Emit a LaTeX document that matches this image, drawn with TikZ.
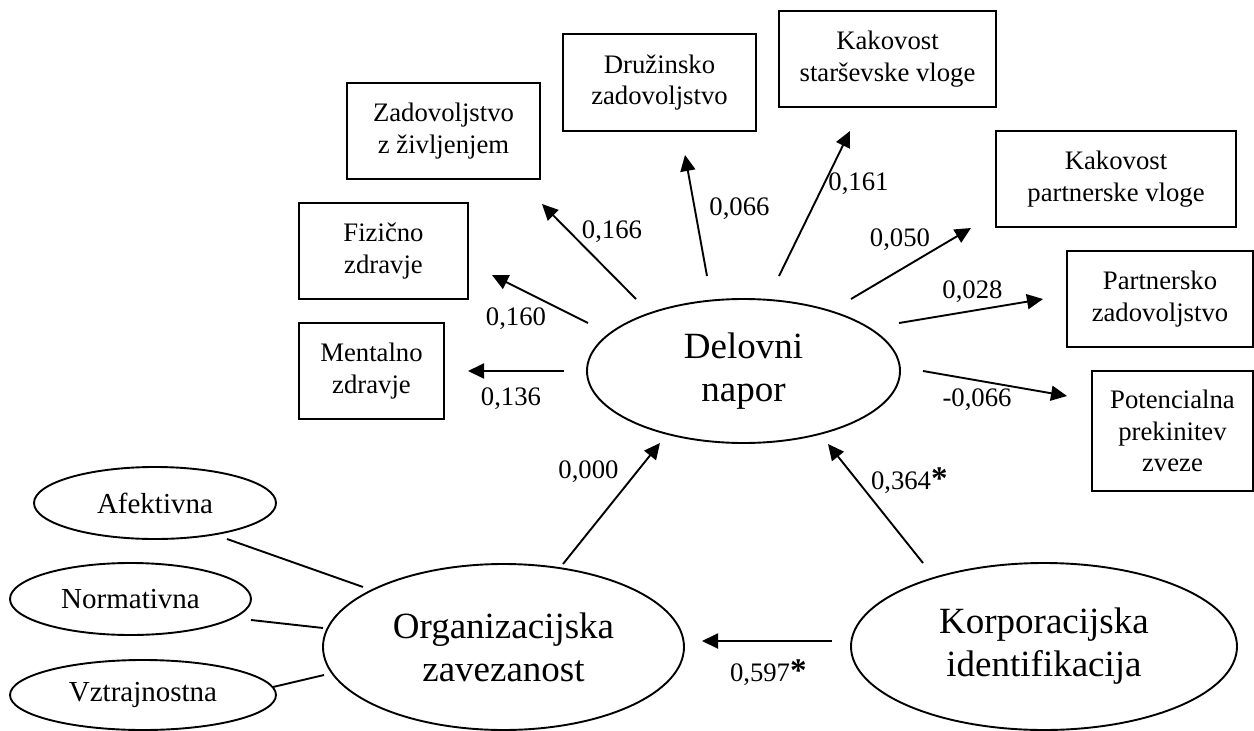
\documentclass[tikz,border=0pt]{standalone}
\usepackage{fontspec}
\setmainfont{Liberation Serif}
\usetikzlibrary{shapes.geometric,arrows.meta}
\begin{document}
\begin{tikzpicture}[x=1pt,y=-1pt,
  every node/.style={inner sep=0pt, outer sep=0pt},
  box/.style={draw, line width=1.9pt, rectangle, align=center,
    font=\fontsize{26.7}{31.5}\selectfont},
  bigell/.style={draw, line width=1.9pt, ellipse, align=center,
    font=\fontsize{37}{43}\selectfont},
  smallell/.style={draw, line width=1.9pt, ellipse,
    font=\fontsize{29}{34}\selectfont},
  link/.style={line width=1.9pt, -{Triangle[length=16pt,width=15pt]}},
  tie/.style={line width=1.9pt},
  coef/.style={font=\fontsize{26.7}{32}\selectfont, anchor=base}
]
\useasboundingbox (0,0) rectangle (1254,731);

% outcome boxes
\node[box, minimum width=193, minimum height=96] (zad) at (443.5,131) {Zadovoljstvo\\z življenjem};
\node[box, minimum width=169, minimum height=96] (fiz) at (383.5,251) {Fizično\\zdravje};
\node[box, minimum width=145, minimum height=96] (men) at (371.5,371) {Mentalno\\zdravje};
\node[box, minimum width=193, minimum height=97] (dru) at (659.5,82.5) {Družinsko\\zadovoljstvo};
\node[box, minimum width=217, minimum height=96] (sta) at (887.5,59) {Kakovost\\starševske vloge};
\node[box, minimum width=240, minimum height=96] (pvl) at (1116,179) {Kakovost\\partnerske vloge};
\node[box, minimum width=186, minimum height=96] (pza) at (1160,299) {Partnersko\\zadovoljstvo};
\node[box, minimum width=161, minimum height=120] (pot) at (1172.5,431) {Potencialna\\prekinitev\\zveze};

% latent variables
\node[bigell, minimum width=313, minimum height=144] (del) at (743.5,371) {Delovni\\napor};
\node[bigell, minimum width=361, minimum height=166] (org) at (503.5,647) {Organizacijska\\zavezanost};
\node[bigell, minimum width=386, minimum height=167] (kor) at (1044,646.5) {Korporacijska\\identifikacija};

% commitment components
\node[smallell, minimum width=242, minimum height=72] (afe) at (155,503) {Afektivna};
\node[smallell, minimum width=241, minimum height=72] (nor) at (130.5,599) {Normativna};
\node[smallell, minimum width=266, minimum height=70] (vzt) at (143,695) {Vztrajnostna};

% connector end points
\coordinate (zadS) at (636,299);  \coordinate (zadT) at (542,204);
\coordinate (fizS) at (588,323);  \coordinate (fizT) at (492,275);
\coordinate (menS) at (564,371);  \coordinate (menT) at (468,371);
\coordinate (druS) at (707,276);  \coordinate (druT) at (685,155);
\coordinate (staS) at (779,276);  \coordinate (staT) at (850,131);
\coordinate (pvlS) at (851,299);  \coordinate (pvlT) at (971,228);
\coordinate (pzaS) at (899,323);  \coordinate (pzaT) at (1043,299);
\coordinate (potS) at (923,371);  \coordinate (potT) at (1067,396);
\coordinate (orgS) at (563,564);  \coordinate (orgT) at (660,443);
\coordinate (korS) at (923,563);  \coordinate (korT) at (828,444);
\coordinate (koS)  at (832,641);  \coordinate (koT)  at (702,641);
\coordinate (afeA) at (227,539);  \coordinate (afeB) at (363,587);
\coordinate (norA) at (251,620);  \coordinate (norB) at (323,628);
\coordinate (vztA) at (273,687);  \coordinate (vztB) at (324,675);

% paths from work strain
\draw[link] (zadS) -- (zadT);
\draw[link] (fizS) -- (fizT);
\draw[link] (menS) -- (menT);
\draw[link] (druS) -- (druT);
\draw[link] (staS) -- (staT);
\draw[link] (pvlS) -- (pvlT);
\draw[link] (pzaS) -- (pzaT);
\draw[link] (potS) -- (potT);

% predictors
\draw[link] (orgS) -- (orgT);
\draw[link] (korS) -- (korT);
\draw[link] (koS) -- (koT);

% indicator lines
\draw[tie] (afeA) -- (afeB);
\draw[tie] (norA) -- (norB);
\draw[tie] (vztA) -- (vztB);

% path coefficients
\node[coef] (c166) at (612,238.3) {0,166};
\node[coef] (c160) at (516,325) {0,160};
\node[coef] (c136) at (511,405.7) {0,136};
\node[coef] (c066) at (739.5,215) {0,066};
\node[coef] (c161) at (858.5,190.7) {0,161};
\node[coef] (c050) at (900,246.7) {0,050};
\node[coef] (c028) at (972.5,298.3) {0,028};
\node[coef] (cm066) at (977,406) {-0,066};
\node[coef] (c000) at (588.5,478.7) {0,000};
\node[coef, anchor=base west] (c364) at (871,489.3) {0,364{\fontsize{33}{33}\selectfont\bfseries *}};
\node[coef, anchor=base west] (c597) at (730,681) {0,597{\fontsize{33}{33}\selectfont\bfseries *}};
\end{tikzpicture}
\end{document}
